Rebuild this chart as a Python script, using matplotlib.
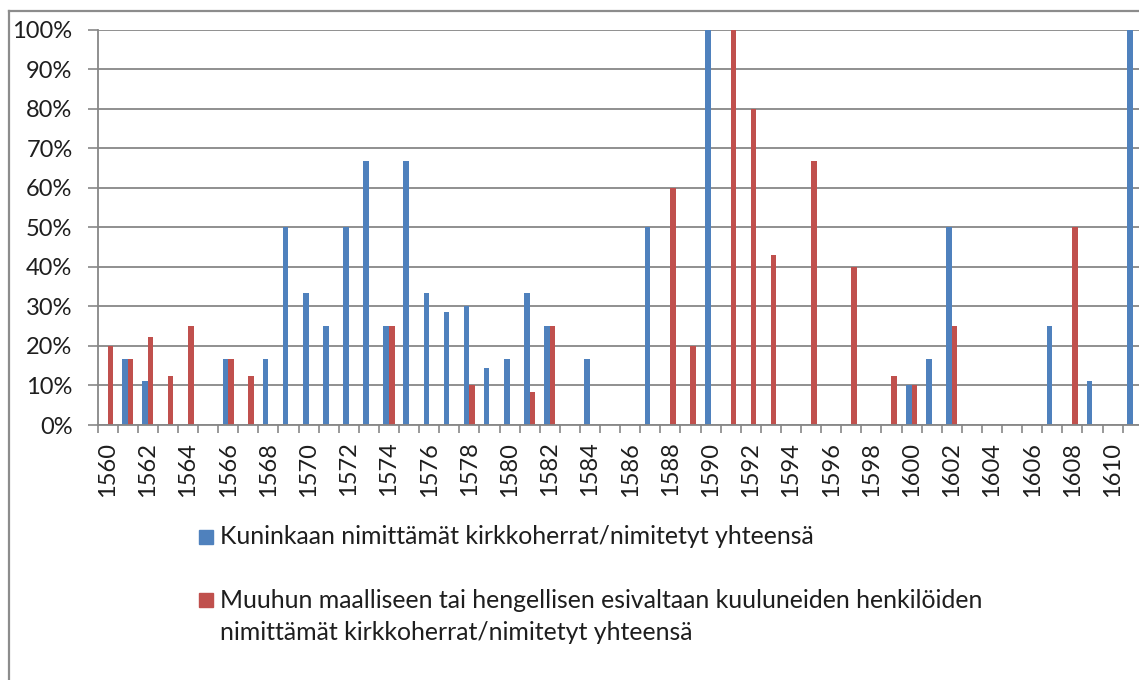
import numpy as np
import matplotlib.pyplot as plt
from matplotlib.patches import Rectangle
from matplotlib.lines import Line2D

# osuudet (%) vuosittain 1560-1611
years = list(range(1560, 1612))
kuningas = [0, 16.7, 11.1, 0, 0, 0, 16.7, 0, 16.7, 50,
            33.3, 25, 50, 66.7, 25, 66.7, 33.3, 28.6, 30, 14.3,
            16.7, 33.3, 25, 0, 16.7, 0, 0, 50, 0, 0,
            100, 0, 0, 0, 0, 0, 0, 0, 0, 0,
            10, 16.7, 50, 0, 0, 0, 0, 25, 0, 11.1,
            0, 100]
muut = [20, 16.7, 22.2, 12.5, 25, 0, 16.7, 12.5, 0, 0,
        0, 0, 0, 0, 25, 0, 0, 0, 10, 0,
        0, 8.3, 25, 0, 0, 0, 0, 0, 60, 20,
        0, 100, 80, 42.9, 0, 66.7, 0, 40, 0, 12.5,
        10, 0, 25, 0, 0, 0, 0, 0, 50, 0,
        0, 0]
tick_years = list(range(1560, 1611, 2))
y_ticks = list(range(0, 101, 10))
labels = ["Kuninkaan nimittämät kirkkoherrat/nimitetyt yhteensä",
          "Muuhun maalliseen tai hengellisen esivaltaan kuuluneiden henkilöiden\n"
          "nimittämät kirkkoherrat/nimitetyt yhteensä"]

BLUE = '#4F81BD'
RED = '#C0504D'
GRAY = '#878787'
TXT = '#1e1e1e'

plt.rcParams['font.family'] = ['Lato', 'DejaVu Sans']

W, H = 1139, 680
fig = plt.figure(figsize=(W / 100, H / 100), dpi=100)

# plot area in pixels (right side runs past the picture edge, like the cropped original)
px0, px1 = 97.5, 97.5 + 52 * 20.1
py0, py1 = 425, 29.5
ax = fig.add_axes([px0 / W, 1 - py0 / H, (px1 - px0) / W, (py0 - py1) / H])

x = np.arange(len(years))
w = 0.28
ax.bar(x - w / 2, kuningas, w, color=BLUE, zorder=3)
ax.bar(x + w / 2, muut, w, color=RED, zorder=3)

ax.set_xlim(-0.5, len(years) - 0.5)
ax.set_ylim(0, 100)

ax.set_yticks(y_ticks)
ax.set_yticklabels([f'{v}%' for v in y_ticks])
ax.yaxis.grid(True, color=GRAY, lw=1.3, zorder=0)
ax.tick_params(axis='y', length=7, width=1.2, color=GRAY, pad=11,
               labelsize=17, labelcolor=TXT)

ax.set_xticks([years.index(y) for y in tick_years])
ax.set_xticklabels([str(y) for y in tick_years], rotation=90)
ax.set_xticks(np.arange(-0.5, len(years), 1), minor=True)
ax.tick_params(axis='x', which='major', length=0, pad=12, labelsize=17, labelcolor=TXT)
ax.tick_params(axis='x', which='minor', length=6, width=1.2, color=GRAY)

for s in ['top', 'right']:
    ax.spines[s].set_visible(False)
for s in ['left', 'bottom']:
    ax.spines[s].set_color(GRAY)
    ax.spines[s].set_linewidth(1.3)
ax.spines['bottom'].set_zorder(4)

# chart border (left and top edges visible)
fig.add_artist(Line2D([9 / W, 9 / W], [0, 1 - 11 / H], transform=fig.transFigure,
                      color='#8c8c8c', lw=1.6))
fig.add_artist(Line2D([9 / W, 1], [1 - 11 / H, 1 - 11 / H], transform=fig.transFigure,
                      color='#8c8c8c', lw=1.6))

# legend below the plot
entry_y = [537, 600]
for col, lab, yc in zip([BLUE, RED], labels, entry_y):
    fig.add_artist(Rectangle((199 / W, 1 - (yc + 7) / H), 14 / W, 14 / H,
                             transform=fig.transFigure, color=col))
    for k, line in enumerate(lab.split('\n')):
        fig.text(220 / W, 1 - (yc + 32 * k) / H, line, va='center', ha='left',
                 fontsize=17.9, color=TXT)

fig.savefig('out.png', dpi=100)
